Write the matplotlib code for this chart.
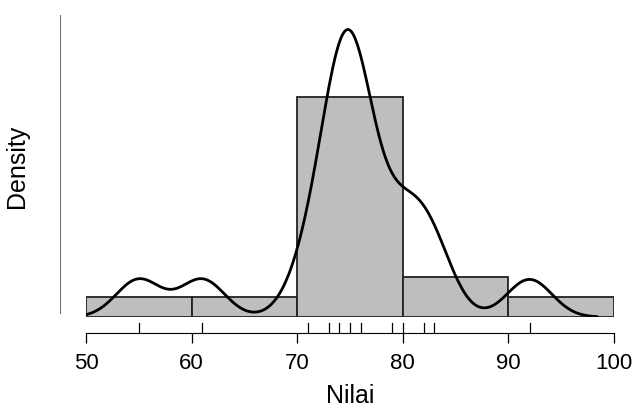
import numpy as np
import matplotlib.pyplot as plt
from matplotlib.transforms import blended_transform_factory

plt.rcParams["font.family"] = ["Liberation Sans", "DejaVu Sans"]

# nilai (dibaca dari rug + tinggi batang histogram)
scores = np.array([55, 61, 71, 73, 74, 74, 75, 75, 75, 76, 76, 79, 80, 82, 83, 92])
edges = np.array([50, 60, 70, 80, 90, 100])
xticks = [50, 60, 70, 80, 90, 100]

# histogram seperti R: interval (a, b]
idx = np.searchsorted(edges, scores, side="left") - 1
idx = np.clip(idx, 0, len(edges) - 2)
counts = np.bincount(idx, minlength=len(edges) - 1)
widths = np.diff(edges)
dens = counts / (len(scores) * widths)

# kde gaussian, bandwidth ala bw.nrd0
q1, q3 = np.percentile(scores, [25, 75])
lo = min(scores.std(ddof=1), (q3 - q1) / 1.34)
bw = 0.9 * lo * len(scores) ** -0.2
gx = np.linspace(scores.min() - 3 * bw, scores.max() + 3 * bw, 512)
gy = np.exp(-0.5 * ((gx[:, None] - scores[None, :]) / bw) ** 2).sum(axis=1)
gy = gy / (len(scores) * bw * np.sqrt(2 * np.pi))

fig = plt.figure(figsize=(6.34, 4.12), dpi=100)
ax = fig.add_axes([86 / 634, 95 / 412, 528 / 634, 302 / 412])

ax.bar(edges[:-1], dens, width=widths, align="edge",
       color="#bebebe", edgecolor="#222222", linewidth=1.3)
ax.plot(gx, gy, color="black", linewidth=2.0)

ax.set_xlim(50, 100)
ax.set_ylim(0, 0.0944)

# rug di bawah batang
tr = blended_transform_factory(ax.transData, ax.transAxes)
for v in np.unique(scores):
    ax.plot([v, v], [-0.019, -0.049], color="black", linewidth=0.9,
            transform=tr, clip_on=False)

for s in ["top", "right"]:
    ax.spines[s].set_visible(False)
ax.spines["left"].set_position(("outward", 18.7))
ax.spines["left"].set_bounds(0.00125, 0.0944)
ax.spines["left"].set_color("#777777")
ax.spines["left"].set_linewidth(0.8)
ax.set_yticks([])

ax.spines["bottom"].set_position(("outward", 11.5))
ax.spines["bottom"].set_bounds(50, 100)
ax.spines["bottom"].set_linewidth(0.8)
ax.set_xticks(xticks)
ax.tick_params(axis="x", direction="out", length=7.2, width=0.9,
               labelsize=16, pad=7.5)

ax.set_xlabel("Nilai", fontsize=18, labelpad=7)
ax.set_ylabel("Density", fontsize=18, labelpad=22)

fig.savefig("out.png", dpi=100)
